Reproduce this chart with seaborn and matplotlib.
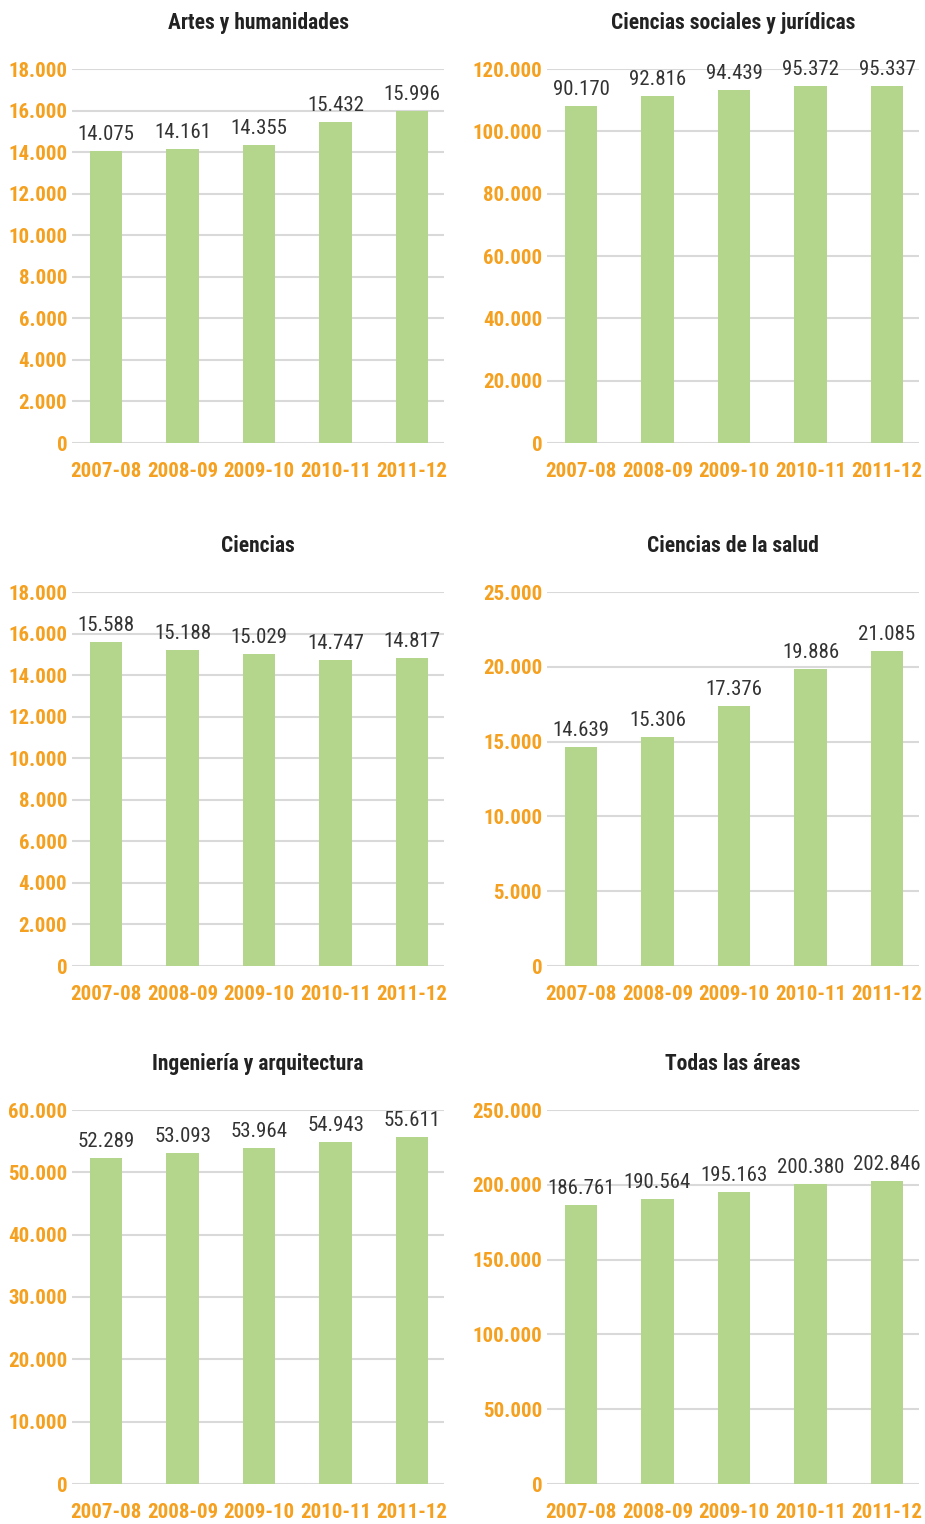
import matplotlib
matplotlib.use('Agg')
import matplotlib.pyplot as plt
import seaborn as sb
import pandas as pd
import numpy as np

sb.set_theme(style='white')
plt.rcParams['font.family'] = ['Roboto Condensed', 'Archivo Narrow', 'DejaVu Sans']

years = ['2007-08', '2008-09', '2009-10', '2010-11', '2011-12']

titles = ['Artes y humanidades', 'Ciencias sociales y jurídicas', 'Ciencias',
          'Ciencias de la salud', 'Ingeniería y arquitectura', 'Todas las áreas']

artes = [14075, 14161, 14355, 15432, 15996]
sociales = [90170, 92816, 94439, 95372, 95337]
ciencias = [15588, 15188, 15029, 14747, 14817]
salud = [14639, 15306, 17376, 19886, 21085]
ingenieria = [52289, 53093, 53964, 54943, 55611]
todas = [186761, 190564, 195163, 200380, 202846]

# tick labels as printed on each panel
ticks_artes = ['0', '2.000', '4.000', '6.000', '8.000', '10.000', '12.000', '14.000', '16.000', '18.000']
ticks_sociales = ['0', '20.000', '40.000', '60.000', '80.000', '100.000', '120.000']
ticks_ciencias = ticks_artes
ticks_salud = ['0', '5.000', '10.000', '15.000', '20.000', '25.000']
ticks_ingenieria = ['0', '10.000', '20.000', '30.000', '40.000', '50.000', '60.000']
ticks_todas = ['0', '50.000', '100.000', '150.000', '200.000', '250.000']

# value at the top gridline (the "sociales" panel draws its bars against ~100.000)
axis_top = [18000, 100000, 18000, 25000, 60000, 250000]

series = [artes, sociales, ciencias, salud, ingenieria, todas]
tick_sets = [ticks_artes, ticks_sociales, ticks_ciencias, ticks_salud, ticks_ingenieria, ticks_todas]

GREEN = '#B3D68C'
ORANGE = '#F5A01F'
GRID = '#D9D9D9'
TEXT = '#333333'

W, H = 925, 1524
fig = plt.figure(figsize=(W / 100, H / 100), dpi=100)

lefts = [72, 547]
tops = [69, 592, 1110]
aw, ah = 372, 374

for i in range(6):
    r, c = divmod(i, 2)
    ax = fig.add_axes([lefts[c] / W, 1 - (tops[r] + ah) / H, aw / W, ah / H])
    df = pd.DataFrame({'year': years, 'value': series[i]})
    sb.barplot(data=df, x='year', y='value', color=GREEN, width=0.43,
               saturation=1, linewidth=0, ax=ax, zorder=3)
    ax.set_xlim(-0.444, 4.418)
    ax.set_ylim(0, axis_top[i])
    ax.set_yticks(np.linspace(0, axis_top[i], len(tick_sets[i])))
    ax.set_yticklabels(tick_sets[i])
    ax.grid(axis='y', color=GRID, linewidth=1.5, zorder=0)
    ax.grid(axis='x', visible=False)
    for s in ax.spines.values():
        s.set_visible(False)
    ax.tick_params(length=0)
    ax.tick_params(axis='y', pad=3.5)
    ax.tick_params(axis='x', pad=14)
    for lab in ax.get_xticklabels() + ax.get_yticklabels():
        lab.set_color(ORANGE)
        lab.set_fontweight('bold')
        lab.set_fontsize(15)
    ax.set_xlabel('')
    ax.set_ylabel('')
    for container in ax.containers:
        ax.bar_label(container, labels=[f'{v:,}'.replace(',', '.') for v in series[i]],
                     padding=5, fontsize=15, color=TEXT)
    ax.set_title(titles[i], fontsize=15.5, fontweight='bold', color='#222222', pad=29)

fig.savefig('out.png', dpi=100, facecolor='white')
